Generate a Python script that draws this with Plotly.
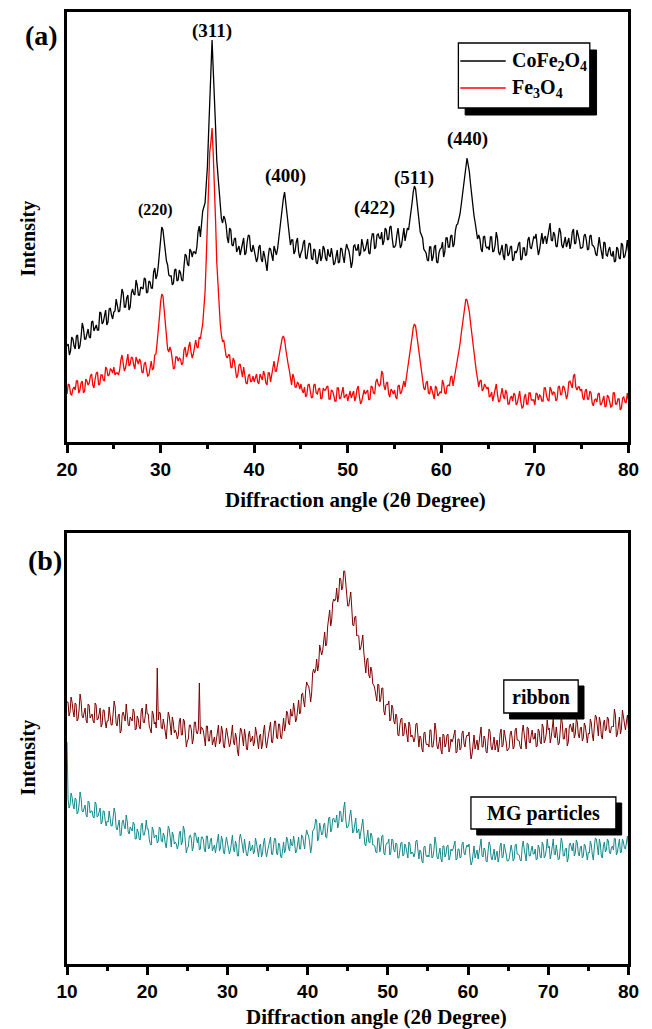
import numpy as np
import plotly.graph_objects as go

# ---------------------------------------------------------------
# Data (arbitrary intensity units)
# ---------------------------------------------------------------
STEP = 0.125
two_theta_a = np.arange(20, 80 + STEP / 2, STEP)
two_theta_b = np.arange(10, 80 + STEP / 2, STEP)

# (a) CoFe2O4 (black)
cofe2o4 = [
    96, 98, 87, 91, 105, 103, 96, 93, 106, 107, 93, 96, 105, 119, 114, 103, 103, 109, 113, 105,
    104, 120, 121, 111, 115, 117, 112, 112, 130, 129, 118, 120, 126, 132, 117, 120, 133, 134, 127, 123,
    130, 131, 143, 138, 130, 131, 140, 153, 149, 135, 135, 144, 147, 132, 135, 149, 153, 148, 147, 162,
    157, 147, 147, 155, 154, 153, 164, 163, 149, 150, 161, 160, 154, 154, 170, 174, 163, 167, 176, 188,
    200, 215, 212, 199, 186, 181, 177, 167, 166, 166, 157, 159, 172, 173, 161, 162, 172, 169, 162, 161,
    176, 188, 186, 178, 176, 193, 191, 185, 190, 190, 188, 195, 210, 216, 205, 218, 231, 235, 239, 257,
    275, 308, 340, 366, 402, 372, 348, 315, 282, 265, 247, 235, 223, 219, 226, 223, 217, 204, 199, 214,
    212, 197, 196, 203, 204, 190, 194, 196, 187, 192, 200, 204, 187, 189, 200, 207, 206, 192, 190, 197,
    192, 187, 180, 184, 195, 197, 183, 180, 191, 186, 175, 171, 185, 194, 193, 185, 181, 196, 191, 187,
    193, 203, 212, 225, 238, 244, 250, 239, 228, 218, 207, 197, 202, 202, 188, 191, 200, 204, 190, 184,
    189, 192, 199, 202, 184, 183, 192, 199, 198, 184, 182, 193, 192, 180, 178, 188, 193, 181, 185, 196,
    193, 184, 181, 193, 187, 185, 194, 187, 177, 179, 188, 192, 179, 180, 194, 193, 185, 179, 191, 198,
    194, 191, 184, 174, 180, 196, 197, 192, 192, 198, 186, 189, 203, 198, 191, 192, 200, 203, 189, 188,
    201, 208, 208, 193, 195, 207, 208, 204, 203, 210, 197, 201, 214, 212, 202, 203, 215, 216, 204, 195,
    195, 197, 207, 214, 204, 194, 197, 209, 214, 201, 206, 214, 212, 220, 228, 239, 250, 256, 253, 243,
    232, 221, 210, 207, 204, 193, 191, 189, 182, 181, 195, 195, 181, 185, 195, 197, 180, 179, 189, 193,
    194, 200, 185, 190, 204, 204, 195, 195, 206, 207, 195, 198, 211, 217, 218, 223, 228, 237, 246, 256,
    266, 275, 284, 277, 270, 258, 246, 236, 226, 219, 212, 203, 207, 203, 193, 190, 205, 206, 196, 194,
    195, 192, 205, 205, 190, 191, 197, 210, 204, 190, 187, 193, 197, 186, 182, 198, 197, 186, 188, 195,
    196, 181, 183, 191, 189, 192, 198, 200, 182, 183, 194, 194, 186, 188, 202, 205, 195, 193, 201, 205,
    204, 208, 196, 187, 192, 204, 209, 198, 204, 206, 198, 205, 215, 219, 202, 201, 210, 207, 196, 195,
    205, 214, 210, 197, 194, 202, 205, 195, 200, 204, 193, 199, 210, 213, 198, 199, 212, 208, 202, 194,
    194, 195, 206, 208, 202, 192, 193, 206, 207, 197, 196, 194, 188, 186, 200, 205, 196, 187, 183, 200,
    199, 187, 186, 192, 195, 187, 186, 191, 180, 181, 195, 193, 184, 183, 199, 197, 184, 186, 192, 202,
    191,
]

# (a) Fe3O4 (red)
fe3o4 = [
    48, 58, 57, 48, 47, 53, 55, 52, 61, 61, 49, 52, 59, 61, 49, 51, 63, 61, 57, 59,
    66, 68, 57, 54, 63, 69, 70, 57, 58, 67, 67, 62, 61, 75, 73, 66, 67, 73, 72, 69,
    75, 67, 69, 69, 67, 72, 82, 87, 79, 71, 74, 83, 88, 76, 78, 85, 84, 77, 73, 85,
    80, 78, 83, 80, 70, 69, 78, 80, 72, 66, 67, 76, 81, 72, 74, 87, 88, 99, 110, 125,
    140, 148, 146, 133, 120, 107, 93, 90, 95, 91, 81, 73, 74, 85, 85, 81, 84, 83, 77, 79,
    92, 95, 85, 88, 95, 100, 90, 84, 88, 96, 102, 95, 94, 105, 103, 111, 118, 134, 150, 182,
    215, 252, 290, 300, 314, 288, 262, 221, 180, 155, 130, 118, 107, 100, 102, 95, 86, 84, 87, 87,
    75, 74, 84, 81, 74, 64, 67, 77, 78, 70, 65, 75, 68, 59, 58, 66, 68, 60, 61, 66,
    60, 65, 68, 60, 58, 68, 65, 62, 71, 67, 59, 57, 69, 69, 60, 66, 75, 81, 71, 71,
    78, 85, 92, 98, 104, 106, 102, 93, 84, 78, 72, 63, 57, 68, 64, 55, 55, 60, 58, 53,
    58, 52, 49, 55, 45, 47, 57, 58, 52, 44, 45, 57, 58, 49, 48, 53, 54, 43, 44, 54,
    52, 52, 55, 56, 43, 43, 52, 51, 47, 41, 41, 54, 54, 43, 44, 52, 55, 44, 46, 48,
    41, 48, 51, 44, 48, 51, 41, 45, 53, 56, 45, 38, 41, 48, 52, 48, 50, 52, 42, 43,
    56, 55, 49, 48, 60, 63, 58, 56, 58, 71, 68, 56, 52, 59, 60, 48, 45, 53, 51, 48,
    52, 45, 43, 56, 57, 48, 50, 58, 61, 55, 63, 70, 76, 86, 96, 105, 114, 118, 116, 107,
    98, 88, 78, 71, 64, 54, 52, 59, 61, 49, 48, 56, 52, 46, 43, 56, 54, 46, 48, 50,
    49, 62, 58, 49, 48, 56, 57, 56, 65, 66, 56, 63, 70, 76, 82, 90, 98, 108, 118, 126,
    134, 143, 142, 136, 130, 119, 108, 97, 86, 78, 70, 63, 55, 61, 62, 51, 53, 58, 55, 53,
    55, 45, 46, 50, 41, 46, 54, 58, 48, 40, 41, 49, 54, 46, 43, 52, 49, 38, 38, 44,
    46, 41, 49, 47, 37, 39, 45, 51, 40, 34, 35, 45, 48, 38, 38, 49, 49, 42, 42, 42,
    37, 49, 48, 42, 47, 46, 41, 41, 54, 54, 46, 42, 41, 55, 52, 47, 50, 49, 41, 43,
    55, 56, 47, 48, 56, 55, 50, 43, 47, 60, 61, 56, 54, 66, 68, 55, 52, 55, 55, 51,
    53, 44, 42, 51, 53, 43, 43, 51, 49, 39, 36, 42, 43, 40, 48, 49, 37, 38, 43, 46,
    35, 36, 47, 45, 40, 35, 36, 49, 49, 38, 38, 43, 43, 32, 34, 44, 45, 40, 39, 49,
    42,
]

# (b) ribbon (dark red)
ribbon = [
    262, 262, 248, 252, 267, 262, 253, 247, 261, 260, 243, 245, 254, 270, 263, 248, 246, 252, 256, 244,
    241, 260, 259, 246, 249, 250, 243, 241, 261, 259, 244, 245, 250, 256, 237, 240, 254, 254, 243, 236,
    243, 243, 257, 249, 239, 239, 248, 263, 257, 240, 238, 248, 250, 231, 233, 249, 252, 246, 243, 260,
    252, 239, 238, 247, 245, 243, 255, 252, 234, 235, 248, 245, 237, 235, 253, 256, 242, 241, 248, 260,
    250, 250, 238, 233, 231, 253, 250, 240, 242, 236, 296, 244, 252, 251, 236, 235, 245, 239, 229, 225,
    240, 252, 248, 235, 229, 247, 242, 231, 234, 231, 225, 229, 243, 246, 229, 229, 245, 243, 233, 217,
    223, 225, 239, 239, 234, 220, 225, 242, 242, 232, 230, 235, 281, 230, 237, 236, 233, 221, 218, 238,
    238, 223, 223, 233, 234, 219, 225, 227, 217, 224, 234, 239, 220, 223, 238, 233, 218, 216, 227, 236,
    230, 225, 217, 221, 235, 239, 222, 219, 231, 226, 213, 208, 225, 236, 234, 224, 218, 235, 228, 215,
    214, 229, 233, 222, 224, 228, 218, 222, 237, 231, 221, 215, 228, 230, 215, 220, 233, 239, 223, 216,
    223, 229, 238, 242, 222, 221, 232, 243, 243, 227, 225, 240, 240, 227, 225, 238, 246, 233, 239, 253,
    251, 241, 239, 255, 248, 248, 261, 253, 242, 245, 258, 264, 250, 252, 270, 271, 263, 257, 273, 282,
    279, 278, 272, 262, 271, 291, 295, 291, 294, 305, 293, 299, 319, 315, 309, 313, 326, 332, 318, 320,
    338, 350, 354, 338, 344, 361, 365, 363, 365, 376, 362, 368, 386, 385, 374, 377, 393, 393, 379, 363,
    358, 358, 368, 372, 356, 339, 338, 347, 348, 328, 329, 328, 314, 316, 322, 329, 312, 296, 291, 304,
    306, 289, 286, 297, 293, 280, 279, 275, 266, 263, 280, 279, 262, 265, 276, 276, 253, 249, 259, 260,
    259, 263, 243, 245, 259, 256, 243, 240, 250, 247, 229, 228, 239, 245, 246, 228, 229, 241, 237, 226,
    222, 242, 239, 227, 229, 227, 222, 226, 240, 241, 222, 217, 228, 226, 215, 212, 231, 232, 221, 219,
    220, 217, 234, 234, 217, 217, 225, 241, 234, 218, 215, 222, 227, 214, 210, 230, 229, 217, 220, 229,
    230, 212, 216, 225, 222, 225, 232, 234, 211, 212, 225, 225, 214, 216, 231, 233, 220, 217, 226, 229,
    228, 232, 216, 205, 210, 224, 229, 215, 222, 224, 214, 222, 233, 237, 217, 217, 228, 225, 212, 211,
    224, 235, 232, 217, 214, 223, 227, 214, 220, 224, 212, 218, 231, 235, 217, 219, 234, 229, 222, 213,
    214, 216, 230, 233, 226, 215, 217, 234, 236, 224, 224, 223, 217, 215, 232, 239, 230, 219, 215, 237,
    236, 222, 221, 229, 234, 225, 225, 231, 217, 218, 235, 233, 222, 220, 240, 237, 221, 224, 230, 244,
    234, 236, 221, 227, 240, 245, 228, 226, 237, 229, 219, 221, 232, 247, 241, 225, 225, 235, 236, 218,
    222, 237, 240, 234, 232, 241, 226, 230, 245, 242, 229, 226, 236, 237, 223, 226, 241, 238, 231, 221,
    231, 230, 245, 241, 229, 223, 238, 249, 247, 236, 228, 247, 242, 228, 225, 240, 244, 233, 235, 247,
    245, 232, 231, 237, 238, 237, 255, 249, 227, 230, 241, 247, 230, 235, 254, 246, 236, 234, 242, 249,
    236,
]

# (b) MG particles (teal)
mg_particles = [
    222, 165, 156, 159, 171, 167, 159, 155, 166, 165, 150, 152, 159, 172, 166, 153, 152, 157, 159, 149,
    147, 163, 162, 151, 153, 153, 147, 146, 162, 160, 147, 148, 152, 156, 140, 142, 153, 153, 144, 138,
    143, 142, 153, 147, 138, 138, 145, 156, 151, 136, 134, 142, 144, 128, 129, 142, 144, 138, 135, 149,
    143, 132, 130, 137, 135, 133, 142, 140, 125, 125, 135, 132, 125, 124, 139, 141, 129, 129, 134, 144,
    135, 135, 125, 120, 119, 137, 134, 126, 128, 129, 121, 123, 137, 136, 123, 122, 131, 128, 120, 116,
    127, 138, 135, 123, 117, 132, 129, 120, 122, 120, 115, 119, 131, 133, 119, 122, 138, 134, 123, 111,
    116, 117, 128, 129, 125, 113, 117, 131, 131, 123, 121, 127, 114, 115, 127, 127, 124, 114, 112, 128,
    128, 115, 116, 124, 126, 113, 117, 119, 111, 117, 126, 130, 113, 116, 128, 124, 112, 110, 120, 127,
    121, 117, 110, 114, 126, 129, 115, 112, 123, 119, 108, 108, 126, 130, 124, 116, 111, 125, 119, 109,
    108, 120, 123, 113, 115, 119, 110, 113, 126, 121, 112, 107, 118, 120, 107, 111, 121, 126, 113, 107,
    113, 117, 124, 127, 110, 109, 118, 126, 125, 111, 109, 121, 120, 108, 106, 116, 122, 111, 115, 127,
    124, 116, 113, 125, 119, 118, 128, 121, 111, 113, 123, 127, 115, 115, 129, 128, 121, 115, 127, 134,
    130, 128, 121, 111, 117, 133, 134, 137, 145, 143, 123, 126, 141, 136, 129, 130, 139, 141, 127, 126,
    139, 146, 147, 132, 134, 145, 146, 142, 142, 149, 136, 140, 153, 152, 142, 143, 156, 162, 145, 136,
    137, 139, 148, 154, 143, 131, 133, 143, 146, 131, 134, 135, 125, 130, 138, 145, 132, 120, 118, 130,
    134, 122, 121, 131, 129, 119, 119, 118, 112, 111, 126, 126, 112, 117, 128, 129, 111, 109, 119, 121,
    121, 125, 109, 112, 125, 124, 114, 112, 121, 120, 106, 106, 116, 121, 122, 108, 109, 120, 117, 109,
    106, 122, 120, 110, 112, 111, 107, 111, 123, 124, 109, 105, 114, 112, 103, 101, 117, 118, 109, 107,
    109, 107, 120, 120, 106, 107, 114, 127, 121, 107, 105, 112, 116, 105, 102, 118, 118, 107, 110, 118,
    119, 104, 107, 115, 113, 115, 121, 123, 104, 105, 115, 115, 106, 107, 120, 122, 111, 109, 116, 119,
    117, 120, 107, 99, 102, 113, 118, 106, 112, 114, 105, 111, 121, 125, 108, 107, 116, 114, 103, 102,
    113, 122, 119, 107, 104, 112, 115, 104, 109, 113, 102, 107, 118, 121, 106, 107, 120, 116, 110, 103,
    103, 105, 116, 119, 113, 103, 105, 119, 120, 110, 110, 109, 104, 103, 117, 123, 115, 106, 103, 121,
    120, 108, 108, 114, 118, 110, 110, 115, 104, 105, 119, 116, 107, 106, 122, 119, 106, 108, 114, 125,
    116, 118, 105, 110, 121, 125, 110, 109, 119, 113, 104, 105, 114, 126, 121, 108, 108, 115, 116, 102,
    106, 119, 121, 115, 113, 121, 108, 111, 124, 121, 110, 108, 117, 118, 106, 108, 120, 118, 112, 104,
    112, 111, 123, 119, 109, 104, 117, 126, 125, 115, 109, 125, 120, 108, 106, 118, 122, 112, 114, 125,
    123, 112, 110, 116, 118, 114, 126, 125, 109, 112, 120, 125, 111, 112, 125, 122, 116, 115, 121, 128,
    118,
]

# Miller indices of the spinel reflections, with label anchor (2theta, intensity)
peak_hkl = ["(220)", "(311)", "(400)", "(422)", "(511)", "(440)"]
peak_x = [29.5, 35.5, 43.4, 52.9, 57.1, 62.8]
peak_y = [232, 411, 266, 234, 264, 303]

assert len(cofe2o4) == len(two_theta_a) and len(fe3o4) == len(two_theta_a)
assert len(ribbon) == len(two_theta_b) and len(mg_particles) == len(two_theta_b)

# ---------------------------------------------------------------
# Styling helpers (positions given in pixels of the 652x1029 page)
# ---------------------------------------------------------------
W, H = 652, 1029
SERIF = "Liberation Serif"
SANS = "Liberation Sans"


def px(x):
    return x / W


def py(y):
    return 1 - y / H


def serif(size):
    return dict(family=SERIF, size=size, color="black", weight="bold")


def boxed_label(x0, y0, x1, y1, shadow=6):
    """white box with a black drop shadow"""
    return [
        dict(type="rect", xref="paper", yref="paper", layer="above",
             x0=px(x0 + shadow), x1=px(x1 + shadow), y0=py(y1 + shadow), y1=py(y0 + shadow),
             fillcolor="black", line=dict(color="black", width=1)),
        dict(type="rect", xref="paper", yref="paper", layer="above",
             x0=px(x0), x1=px(x1), y0=py(y1), y1=py(y0),
             fillcolor="white", line=dict(color="black", width=1.3)),
    ]


fig = go.Figure()
fig.add_trace(go.Scatter(x=two_theta_a, y=cofe2o4, mode="lines", name="CoFe<sub>2</sub>O<sub>4</sub>",
                         line=dict(color="#000000", width=1.3), xaxis="x", yaxis="y"))
fig.add_trace(go.Scatter(x=two_theta_a, y=fe3o4, mode="lines", name="Fe<sub>3</sub>O<sub>4</sub>",
                         line=dict(color="#ff0000", width=1.3), xaxis="x", yaxis="y"))
fig.add_trace(go.Scatter(x=two_theta_b, y=ribbon, mode="lines", name="ribbon",
                         line=dict(color="#800000", width=1.0), xaxis="x2", yaxis="y2"))
fig.add_trace(go.Scatter(x=two_theta_b, y=mg_particles, mode="lines", name="MG particles",
                         line=dict(color="#138a8a", width=1.0), xaxis="x2", yaxis="y2"))

common_x = dict(
    domain=[px(58), px(639)], showline=True, linecolor="black", linewidth=2.5, mirror=True,
    ticks="outside", ticklen=8, tickwidth=2.5, tickcolor="black", dtick=10,
    minor=dict(dtick=5, ticks="outside", ticklen=4, tickwidth=2.5, tickcolor="black"),
    showgrid=False, zeroline=False,
    tickfont=dict(family=SANS, size=19, color="black", weight="bold"),
)
common_y = dict(
    showline=True, linecolor="black", linewidth=2.5, mirror=True,
    ticks="", showticklabels=False, showgrid=False, zeroline=False,
)

shapes = []
shapes += boxed_label(463, 43, 599, 108, shadow=7)   # legend (a)
shapes += boxed_label(510, 680, 587, 713, shadow=6)  # ribbon
shapes += boxed_label(476, 797, 626, 829, shadow=6)  # MG particles
shapes.append(dict(type="line", xref="paper", yref="paper", layer="above",
                   x0=px(465), x1=px(512), y0=py(61), y1=py(61), line=dict(color="#000000", width=1.5)))
shapes.append(dict(type="line", xref="paper", yref="paper", layer="above",
                   x0=px(465), x1=px(512), y0=py(88), y1=py(88), line=dict(color="#ff0000", width=1.5)))

annotations = []
for lab, xx, yy in zip(peak_hkl, peak_x, peak_y):
    annotations.append(dict(x=xx, y=yy, xref="x", yref="y", text=lab, showarrow=False,
                            xanchor="center", yanchor="middle",
                            font=serif(16 if lab == "(220)" else 19)))


def paper_text(text, x, y, size, xanchor="center", **kw):
    d = dict(x=px(x), y=py(y), xref="paper", yref="paper", text=text, showarrow=False,
             xanchor=xanchor, yanchor="middle", font=serif(size))
    d.update(kw)
    annotations.append(d)


paper_text("(a)", 32, 36, 28)
paper_text("(b)", 35, 560, 28)
paper_text("Intensity", 18, 238, 20, textangle=-90)
paper_text("Intensity", 18, 757, 20, textangle=-90)
paper_text("Diffraction angle (2θ Degree)", 357, 500, 21)
paper_text("Diffraction angle (2θ Degree)", 378, 1017, 21)
paper_text("CoFe<sub>2</sub>O<sub>4</sub>", 516, 61, 20, xanchor="left")
paper_text("Fe<sub>3</sub>O<sub>4</sub>", 516, 88, 20, xanchor="left")
paper_text("ribbon", 548.5, 696.5, 20)
paper_text("MG particles", 551, 813, 20)

fig.update_layout(
    width=W, height=H,
    margin=dict(l=0, r=0, t=0, b=0),
    paper_bgcolor="white", plot_bgcolor="white",
    showlegend=False,
    xaxis=dict(common_x, range=[20, 80], anchor="y"),
    yaxis=dict(common_y, domain=[py(442), py(12)], range=[0, 430], anchor="x"),
    xaxis2=dict(common_x, range=[10, 80], anchor="y2"),
    yaxis2=dict(common_y, domain=[py(964), py(533)], range=[0, 431], anchor="x2"),
    shapes=shapes,
    annotations=annotations,
)

# the default page margin would push the 652x1029 figure off the window
fig.write_html("out.html", config={"displayModeBar": False},
               post_script="document.body.style.margin='0';document.body.style.overflow='hidden';")
